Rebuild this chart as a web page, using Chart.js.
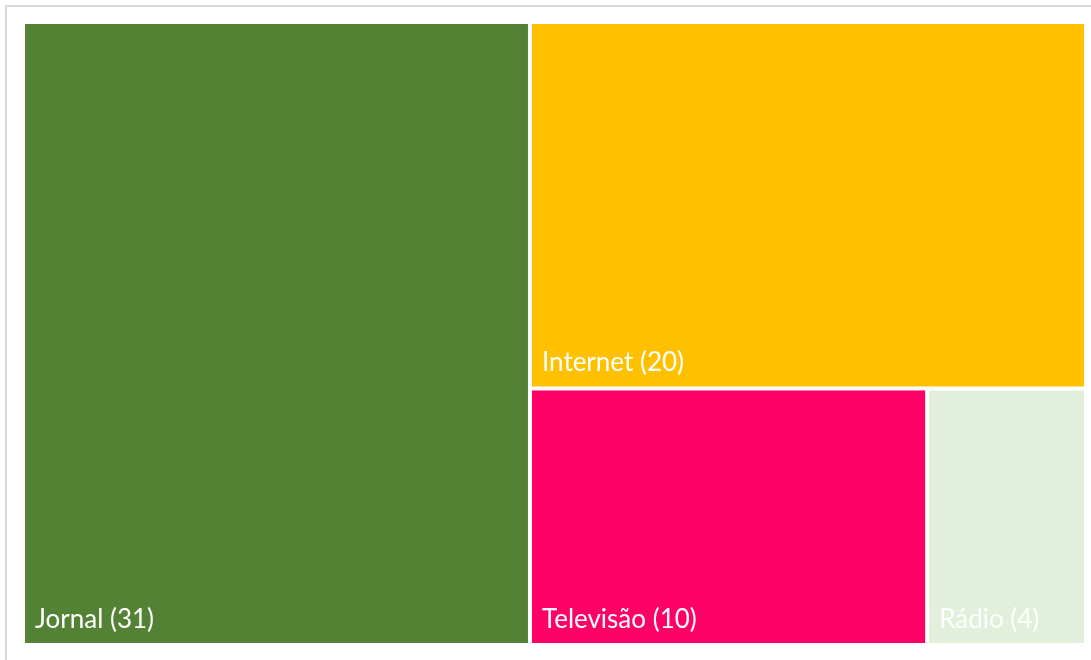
<!DOCTYPE html>
<html>
<head>
<meta charset="utf-8">
<script src="https://cdn.jsdelivr.net/npm/chart.js@4/dist/chart.umd.min.js"></script>
<style>
  html, body { margin: 0; padding: 0; background: #ffffff; }
  #wrap { width: 1091px; height: 660px; position: relative; }
</style>
</head>
<body>
<div id="wrap"><canvas id="c" width="1091" height="660"></canvas></div>
<script>
const categories = ["Jornal", "Internet", "Televisão", "Rádio"];
const values = [31, 20, 10, 4];
const colors = ["#548235", "#FFC000", "#FF0066", "#E2EFDA"];

const W = 1063, H = 623; // value-space extents (proportional to plot area)

function worst(row, side) {
  const s = row.reduce((a, b) => a + b.area, 0);
  let mx = 0;
  for (const r of row) {
    const len = r.area / s * side;
    const other = s / side;
    mx = Math.max(mx, Math.max(len / other, other / len));
  }
  return mx;
}
function squarify(items, x, y, w, h, out) {
  if (!items.length) return;
  let row = [items[0]], i = 1;
  const side = Math.min(w, h);
  while (i < items.length) {
    const next = row.concat([items[i]]);
    if (worst(next, side) <= worst(row, side)) { row = next; i++; } else break;
  }
  const s = row.reduce((a, b) => a + b.area, 0);
  if (w >= h) {
    const sw = s / h; let cy = y;
    for (const r of row) { const rh = r.area / s * h; out.push({ ...r, x0: x, x1: x + sw, y0: cy, y1: cy + rh }); cy += rh; }
    squarify(items.slice(i), x + sw, y, w - sw, h, out);
  } else {
    const sh = s / w; let cx = x;
    for (const r of row) { const rw = r.area / s * w; out.push({ ...r, x0: cx, x1: cx + rw, y0: y, y1: y + sh }); cx += rw; }
    squarify(items.slice(i), x, y + sh, w, h - sh, out);
  }
}
const total = values.reduce((a, b) => a + b, 0);
const items = categories.map((c, k) => ({ label: c, value: values[k], color: colors[k], area: values[k] / total * W * H }));
const rects = [];
squarify(items, 0, 0, W, H, rects);

const frame = {
  id: 'frame',
  beforeDraw(chart) {
    const ctx = chart.ctx;
    ctx.save();
    ctx.strokeStyle = '#d9d9d9';
    ctx.lineWidth = 2;
    ctx.strokeRect(6, 6, 1200, 800);
    ctx.restore();
  }
};

const treemap = {
  id: 'treemap',
  beforeDatasetsDraw(chart) {
    const ctx = chart.ctx, xs = chart.scales.x, ys = chart.scales.y;
    ctx.save();
    for (const r of rects) {
      const px0 = xs.getPixelForValue(r.x0), px1 = xs.getPixelForValue(r.x1);
      const py0 = ys.getPixelForValue(r.y0), py1 = ys.getPixelForValue(r.y1);
      const g = 2;
      ctx.fillStyle = r.color;
      ctx.fillRect(px0 + g, py0 + g, px1 - px0 - 2 * g, py1 - py0 - 2 * g);
      ctx.fillStyle = '#ffffff';
      ctx.font = '26px Lato';
      ctx.textBaseline = 'alphabetic';
      ctx.textAlign = 'left';
      ctx.fillText(r.label + ' (' + r.value + ')', px0 + g + 10, py1 - g - 15);
    }
    ctx.restore();
  }
};

new Chart(document.getElementById('c'), {
  type: 'scatter',
  data: { datasets: [{ data: rects.map(r => ({ x: (r.x0 + r.x1) / 2, y: (r.y0 + r.y1) / 2 })), pointRadius: 0 }] },
  options: {
    responsive: false,
    animation: false,
    layout: { padding: { left: 23, top: 22, right: 5, bottom: 15 } },
    scales: {
      x: { type: 'linear', min: 0, max: W, display: false },
      y: { type: 'linear', min: 0, max: H, reverse: true, display: false }
    },
    plugins: { legend: { display: false }, tooltip: { enabled: false } }
  },
  plugins: [frame, treemap]
});
</script>
</body>
</html>
